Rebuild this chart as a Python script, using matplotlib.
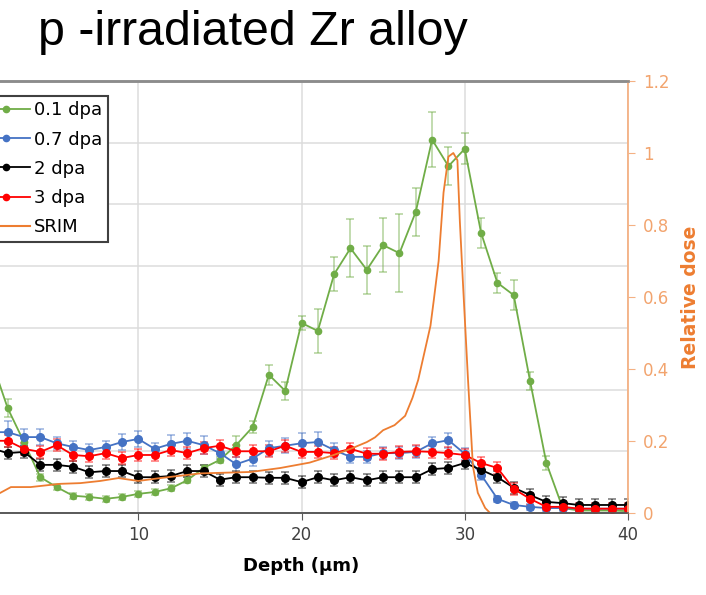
import matplotlib
matplotlib.use("Agg")
import matplotlib.pyplot as plt
from matplotlib.lines import Line2D
import numpy as np

# Depth points (um) for the measured series
depth = np.arange(1, 41)

# 0.1 dpa series (left axis, arbitrary units) and error
dpa_01 = [2.48, 1.70, 1.15, 0.58, 0.42, 0.28, 0.26, 0.23, 0.26, 0.31,
          0.34, 0.40, 0.53, 0.73, 0.86, 1.10, 1.39, 2.24, 1.98, 3.08,
          2.95, 3.87, 4.29, 3.94, 4.34, 4.21, 4.88, 6.05, 5.62, 5.90,
          4.54, 3.73, 3.53, 2.14, 0.81, 0.08, 0.04, 0.04, 0.04, 0.03]
err_01 = [0.20, 0.15, 0.10, 0.06, 0.05, 0.05, 0.05, 0.05, 0.05, 0.05,
          0.05, 0.05, 0.05, 0.05, 0.05, 0.15, 0.10, 0.16, 0.15, 0.11,
          0.36, 0.28, 0.47, 0.39, 0.44, 0.63, 0.39, 0.45, 0.31, 0.25,
          0.24, 0.16, 0.24, 0.15, 0.12, 0.03, 0.02, 0.02, 0.02, 0.02]

dpa_07 = [1.31, 1.31, 1.23, 1.23, 1.13, 1.07, 1.02, 1.07, 1.15, 1.20,
          1.04, 1.12, 1.17, 1.10, 0.97, 0.79, 0.88, 1.05, 1.09, 1.13,
          1.15, 1.02, 0.91, 0.91, 0.97, 0.97, 0.99, 1.13, 1.18, 0.96,
          0.62, 0.23, 0.13, 0.10, 0.08, 0.08, 0.07, 0.07, 0.07, 0.07]
err_07 = [0.15, 0.18, 0.13, 0.13, 0.10, 0.10, 0.10, 0.10, 0.13, 0.13,
          0.10, 0.15, 0.13, 0.15, 0.10, 0.12, 0.12, 0.12, 0.12, 0.16,
          0.16, 0.12, 0.10, 0.10, 0.10, 0.10, 0.10, 0.10, 0.12, 0.10,
          0.08, 0.05, 0.05, 0.05, 0.05, 0.05, 0.05, 0.05, 0.05, 0.05]

dpa_2 = [1.05, 0.97, 0.99, 0.78, 0.78, 0.75, 0.66, 0.68, 0.68, 0.58,
         0.58, 0.60, 0.68, 0.68, 0.54, 0.58, 0.58, 0.57, 0.57, 0.50,
         0.58, 0.53, 0.58, 0.53, 0.58, 0.58, 0.58, 0.71, 0.73, 0.81,
         0.70, 0.58, 0.41, 0.29, 0.18, 0.16, 0.13, 0.13, 0.13, 0.13]
err_2 = [0.10] * 40

dpa_3 = [1.17, 1.17, 1.04, 0.99, 1.10, 0.94, 0.92, 0.97, 0.89, 0.94,
         0.94, 1.02, 0.97, 1.05, 1.09, 1.00, 1.00, 1.00, 1.09, 0.99,
         0.99, 0.97, 1.04, 0.96, 0.96, 0.99, 1.00, 0.99, 0.97, 0.94,
         0.81, 0.73, 0.39, 0.23, 0.10, 0.10, 0.07, 0.07, 0.07, 0.07]
err_3 = [0.10] * 40

# SRIM relative dose profile (right axis)
srim_depth = [1.0, 1.55, 2.2, 3.4, 4.6, 5.2, 6.45, 7.67, 8.78, 10.0,
              11.35, 13.8, 16.9, 18.7, 20.5, 21.9, 23.0, 24.0, 24.5, 25.0,
              25.7, 26.35, 26.8, 27.15, 27.5, 27.9, 28.1, 28.4, 28.7, 29.0,
              29.3, 29.55, 29.7, 29.9, 30.2, 30.5, 30.8, 31.25, 31.55]
srim_dose = [0.045, 0.056, 0.072, 0.072, 0.078, 0.081, 0.083, 0.089, 0.097, 0.089,
             0.097, 0.11, 0.114, 0.125, 0.14, 0.16, 0.178, 0.197, 0.21, 0.23,
             0.244, 0.27, 0.32, 0.37, 0.44, 0.52, 0.59, 0.70, 0.89, 0.99,
             1.0, 0.98, 0.81, 0.63, 0.37, 0.13, 0.056, 0.014, 0.0]

ORANGE = "#ED7D31"
LIGHT_ORANGE = "#F4B183"
TICK_ORANGE = "#F2A46E"

fig = plt.figure(figsize=(7.06, 5.95), dpi=100)

# axes extends past the left edge of the figure (cropped like the source)
ax = fig.add_axes([-25 / 706, 1 - 513 / 595, 653 / 706, 432 / 595])
ax2 = ax.twinx()

series = [
    ("0.1 dpa", dpa_01, err_01, "#70AD47", 4.5),
    ("0.7 dpa", dpa_07, err_07, "#4472C4", 5.5),
    ("2 dpa", dpa_2, err_2, "black", 5.5),
    ("3 dpa", dpa_3, err_3, "#FF0000", 5.5),
]
handles = []
for label, vals, errs, col, ms in series:
    ax.errorbar(depth, vals, yerr=errs, fmt="none", ecolor=col, alpha=0.5,
                elinewidth=1.2, capsize=3, capthick=1.2, zorder=2)
    ax.plot(depth, vals, "-o", color=col, lw=1.3, ms=ms, zorder=3)
    handles.append(Line2D([], [], color=col, lw=1.3, marker="o", ms=4.5))

ax2.plot(srim_depth, srim_dose, color=ORANGE, lw=1.3)
handles.append(Line2D([], [], color=ORANGE, lw=1.5))

ax.set_xlim(0, 40)
ax.set_ylim(0, 7)
ax.set_yticks(np.arange(0, 8, 1))
ax.set_yticklabels([])
ax.tick_params(axis="y", length=0)
ax.set_xticks([10, 20, 30, 40])
ax.tick_params(axis="x", direction="out", length=5, color="#595959",
               labelsize=12, labelcolor="#404040", pad=4)
ax.grid(True, color="#DCDCDC", lw=1.1)
ax.set_axisbelow(True)
ax.set_xlabel("Depth (\u03bcm)", fontsize=13, fontweight="bold", labelpad=10)

ax2.set_ylim(0, 1.2)
ax2.set_yticks([0, 0.2, 0.4, 0.6, 0.8, 1.0, 1.2])
ax2.set_yticklabels(["0", "0.2", "0.4", "0.6", "0.8", "1", "1.2"])
ax2.tick_params(axis="y", direction="out", length=5, color=LIGHT_ORANGE,
                labelsize=12, labelcolor=TICK_ORANGE, pad=6)
ax2.set_ylabel("Relative dose", fontsize=13.5, fontweight="bold",
               color=ORANGE, labelpad=8)

for a in (ax, ax2):
    a.spines["left"].set_visible(False)
    a.spines["top"].set_color("#8C8C8C")
    a.spines["top"].set_linewidth(1.8)
    a.spines["bottom"].set_color("#595959")
    a.spines["bottom"].set_linewidth(1.2)
ax2.spines["right"].set_color(LIGHT_ORANGE)
ax2.spines["right"].set_linewidth(1.3)
ax.spines["right"].set_visible(False)

leg = ax2.legend(handles, ["0.1 dpa", "0.7 dpa", "2 dpa", "3 dpa", "SRIM"],
                 loc="upper right", bbox_to_anchor=(108 / 706, 1 - 96 / 595),
                 bbox_transform=fig.transFigure, fontsize=13,
                 frameon=True, fancybox=False, framealpha=1,
                 handlelength=2.6, handletextpad=0.25, labelspacing=0.62,
                 borderpad=0.3, borderaxespad=0)
leg.get_frame().set_edgecolor("#404040")
leg.get_frame().set_linewidth(1.5)

fig.text(38 / 706, 1 - 45 / 595, "p -irradiated Zr alloy", fontsize=34.8,
         family="Liberation Sans", color="black", ha="left", va="baseline")

fig.savefig("out.png", dpi=100)
